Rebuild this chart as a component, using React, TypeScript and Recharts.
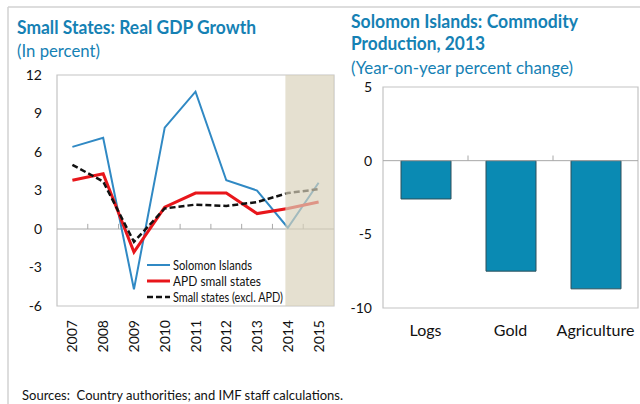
import React from 'react';
import {
  LineChart, Line, XAxis, YAxis, ReferenceArea, ReferenceLine,
  BarChart, Bar,
} from 'recharts';

// ---- Left chart data ----
const years = [2007, 2008, 2009, 2010, 2011, 2012, 2013, 2014, 2015];
const solomonIslands = [6.4, 7.1, -4.7, 7.9, 10.7, 3.8, 3.0, 0.1, 3.6];
const apdSmallStates = [3.8, 4.3, -1.8, 1.7, 2.8, 2.8, 1.2, 1.6, 2.1];
const smallStatesExAPD = [5.0, 3.7, -1.0, 1.6, 1.9, 1.8, 2.1, 2.8, 3.1];
const leftYTicks = [-6, -3, 0, 3, 6, 9, 12];
const projectionStart = 2014;

// ---- Right chart data ----
const commodities = ['Logs', 'Gold', 'Agriculture'];
const commodityChange = [-2.6, -7.5, -8.7];
const rightYTicks = [-10, -5, 0, 5];

const lineData = years.map((year, i) => ({
  year,
  solomon: solomonIslands[i],
  apd: apdSmallStates[i],
  small: smallStatesExAPD[i],
}));
const barData = commodities.map((name, i) => ({ name, value: commodityChange[i] }));

const FONT = 'Lato, "Open Sans", sans-serif';
const TITLE = '#1581b4';
const BLUE = '#3089c4';
const RED = '#e8161b';
const BAR = '#0a8ab3';
const FRAME = '#c4c4c4';

const legendItems = [
  { label: 'Solomon Islands', color: BLUE, width: 2, dash: undefined as string | undefined, len: 79 },
  { label: 'APD small states', color: RED, width: 3, dash: undefined, len: 88 },
  { label: 'Small states (excl. APD)', color: '#111', width: 2.5, dash: '6 3', len: 110 },
];

const LegendBox = () => (
  <svg width={150} height={50} style={{ position: 'absolute', left: 145, top: 257, overflow: 'visible' }}>
    {legendItems.map((it, i) => (
      <g key={it.label}>
        <line x1={2} x2={25} y1={8 + i * 16} y2={8 + i * 16} stroke={it.color}
          strokeWidth={it.width} strokeDasharray={it.dash} />
        <text x={28} y={8 + i * 16 + 4.5} fontSize={13} fontFamily={FONT} fill="#111"
          textLength={it.len} lengthAdjust="spacingAndGlyphs">{it.label}</text>
      </g>
    ))}
  </svg>
);

const YearTick = (props: any) => {
  const { x, y, payload } = props;
  return (
    <text x={x} y={y} transform={`rotate(-90, ${x}, ${y})`} textAnchor="end" dy="0.36em"
      fontSize={14} fontFamily={FONT} fill="#111">{payload.value}</text>
  );
};

const boundaries = years.slice(0, -1).map((y) => y + 0.5);

export default function App() {
  return (
    <div style={{ position: 'absolute', left: 0, top: 0, width: 640, height: 404, background: '#fff', overflow: 'hidden', fontFamily: FONT }}>
      <svg width={640} height={404} style={{ position: 'absolute', left: 0, top: 0 }}>
        <line x1={8} y1={7} x2={640} y2={7} stroke="#d2d2d2" strokeWidth={1.5} />
        <line x1={8} y1={7} x2={8} y2={404} stroke="#d2d2d2" strokeWidth={1.5} />
        <text x={17} y={34} fontSize={18.5} fontWeight={700} fill={TITLE} fontFamily={FONT}
          textLength={239} lengthAdjust="spacingAndGlyphs">Small States: Real GDP Growth</text>
        <text x={17} y={57} fontSize={16.5} fill={TITLE} fontFamily={FONT}
          textLength={83} lengthAdjust="spacingAndGlyphs">(In percent)</text>
        <text x={351} y={28} fontSize={18.5} fontWeight={700} fill={TITLE} fontFamily={FONT}
          textLength={227} lengthAdjust="spacingAndGlyphs">Solomon Islands: Commodity</text>
        <text x={351} y={50} fontSize={18.5} fontWeight={700} fill={TITLE} fontFamily={FONT}
          textLength={134} lengthAdjust="spacingAndGlyphs">Production, 2013</text>
        <text x={351} y={74} fontSize={16.5} fill={TITLE} fontFamily={FONT}
          textLength={222} lengthAdjust="spacingAndGlyphs">(Year-on-year percent change)</text>
        <text x={22} y={400} fontSize={13.5} fill="#111" fontFamily={FONT}
          textLength={321} lengthAdjust="spacingAndGlyphs" xmlSpace="preserve">Sources:  Country authorities; and IMF staff calculations.</text>
      </svg>

      <div style={{ position: 'absolute', left: 0, top: 0 }}>
        <LineChart width={340} height={360} data={lineData} margin={{ top: 75, right: 6, left: 0, bottom: 4 }}>
          <XAxis dataKey="year" type="number" domain={[2006.5, 2015.5]} allowDataOverflow ticks={years}
            axisLine={false} tickLine={false} height={50} tickMargin={8} tick={<YearTick />}
            interval={0} />
          <YAxis type="number" domain={[-6, 12]} allowDataOverflow ticks={leftYTicks} width={57}
            axisLine={false} tickLine={false} tickSize={6} tickMargin={9}
            tick={{ fill: '#111', fontSize: 14, fontFamily: FONT }} interval={0} />
          <ReferenceArea x1={2006.5} x2={2015.5} y1={-6} y2={12} fill="none" stroke={FRAME} strokeWidth={1.2} />
          <ReferenceLine y={0} stroke="#a8a8a8" strokeWidth={1} />
          {boundaries.map((b) => (
            <ReferenceLine key={b} segment={[{ x: b, y: 0 }, { x: b, y: 0.4 }]} stroke="#a8a8a8" strokeWidth={1} />
          ))}
          <Line type="linear" dataKey="solomon" stroke={BLUE} strokeWidth={2} dot={false} isAnimationActive={false} />
          <Line type="linear" dataKey="apd" stroke={RED} strokeWidth={3} dot={false} isAnimationActive={false} />
          <Line type="linear" dataKey="small" stroke="#111" strokeWidth={2.5} strokeDasharray="6 3" dot={false} isAnimationActive={false} />
          <ReferenceArea x1={projectionStart - 0.08} x2={2015.5} y1={-6} y2={12}
            fill="rgb(216,209,186)" fillOpacity={0.68} stroke="none" zIndex={1000} />
        </LineChart>
        <LegendBox />
      </div>

      <div style={{ position: 'absolute', left: 330, top: 0 }}>
        <BarChart width={310} height={360} data={barData} margin={{ top: 87, right: 2, left: 0, bottom: 12 }}>
          <XAxis dataKey="name" axisLine={false} tickLine={false} height={40} tickSize={6} tickMargin={11}
            tick={{ fill: '#111', fontSize: 16, fontFamily: FONT }} interval={0} />
          <YAxis type="number" domain={[-10, 5]} allowDataOverflow ticks={rightYTicks} width={53}
            axisLine={false} tickLine={false} tickSize={6} tickMargin={5}
            tick={{ fill: '#111', fontSize: 14, fontFamily: FONT }} interval={0} />
          <ReferenceArea x1="Logs" x2="Agriculture" y1={-10} y2={5} fill="none" stroke={FRAME} strokeWidth={1.2} />
          <ReferenceLine y={0} stroke="#a8a8a8" strokeWidth={1} />
          {commodities.slice(1).map((c) => (
            <ReferenceLine key={c} segment={[{ x: c, y: 0 }, { x: c, y: 0.35 }]} position="start" stroke="#a8a8a8" strokeWidth={1} />
          ))}
          <Bar dataKey="value" fill={BAR} stroke="#2c4f5a" strokeWidth={1} barSize={50} isAnimationActive={false} />
        </BarChart>
      </div>
    </div>
  );
}
